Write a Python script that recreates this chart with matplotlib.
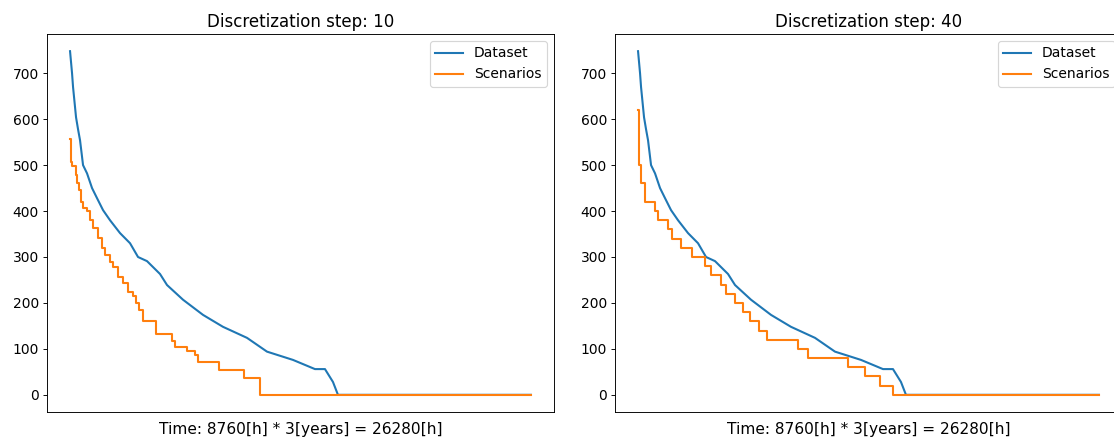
import numpy as np
import matplotlib.pyplot as plt

TOTAL_HOURS = 8760 * 3

# sorted load of the measured data (duration curve), hours vs value
dataset_hours = [0, 114, 171, 342, 456, 570, 741, 969, 1254, 1539, 1881, 2280, 2850,
                 3420, 3876, 4389, 5130, 5529, 6441, 7581, 8721, 10089, 11229, 12711,
                 13965, 14535, 14991, 15276, 26280]
dataset_values = [748, 700, 670, 604, 578, 554, 500, 482, 450, 428, 402, 380, 352,
                  330, 300, 291, 263, 239, 207, 174, 148, 124, 94, 76,
                  56, 56, 28, 0, 0]

# scenario levels, step 10: start hour of each level
scen10_hours = [0, 57, 114, 342, 399, 513, 627, 741, 969, 1140, 1311, 1596, 1824, 1995,
                2280, 2451, 2736, 3021, 3306, 3591, 3762, 3933, 4161, 4902, 5814, 5985,
                6669, 7125, 7296, 8493, 9918, 10830]
scen10_values = [556, 506, 498, 478, 461, 445, 420, 406, 400, 380, 363, 341, 320, 304,
                 289, 278, 256, 243, 224, 215, 200, 185, 161, 132, 118, 104,
                 96, 86, 72, 55, 36, 0]

# scenario levels, step 40
scen40_hours = [0, 30, 171, 399, 969, 1140, 1710, 1938, 2451, 3078, 3819, 4161, 4719,
                5016, 5529, 5985, 6384, 6897, 7353, 9120, 9690, 11970, 12939, 13794, 14535]
scen40_values = [620, 500, 460, 420, 400, 380, 360, 340, 320, 300, 280, 260, 240,
                 220, 200, 180, 160, 140, 120, 100, 80, 60, 40, 20, 0]

steps = [10, 40]
scenarios = [(scen10_hours, scen10_values), (scen40_hours, scen40_values)]

plt.rcParams['font.size'] = 12

W, H = 1114, 445
fig = plt.figure(figsize=(W / 83, H / 83), dpi=83)
lefts = [47, 615]

for left, step, (sh, sv) in zip(lefts, steps, scenarios):
    ax = fig.add_axes([left / W, 33 / H, 507 / W, 378 / H])
    ax.plot(dataset_hours, dataset_values, lw=1.8, label="Dataset")
    ax.step(sh + [TOTAL_HOURS], sv + [sv[-1]], where="post", lw=1.8, label="Scenarios")
    ax.set_title(f"Discretization step: {step}", fontsize=14.4)
    ax.set_xlabel("Time: 8760[h] * 3[years] = 26280[h]", fontsize=13.3, labelpad=9)
    ax.set_xticks([])
    ax.set_yticks(np.arange(0, 800, 100))
    ax.legend(loc="upper right")

fig.savefig("out.png", dpi=83)
